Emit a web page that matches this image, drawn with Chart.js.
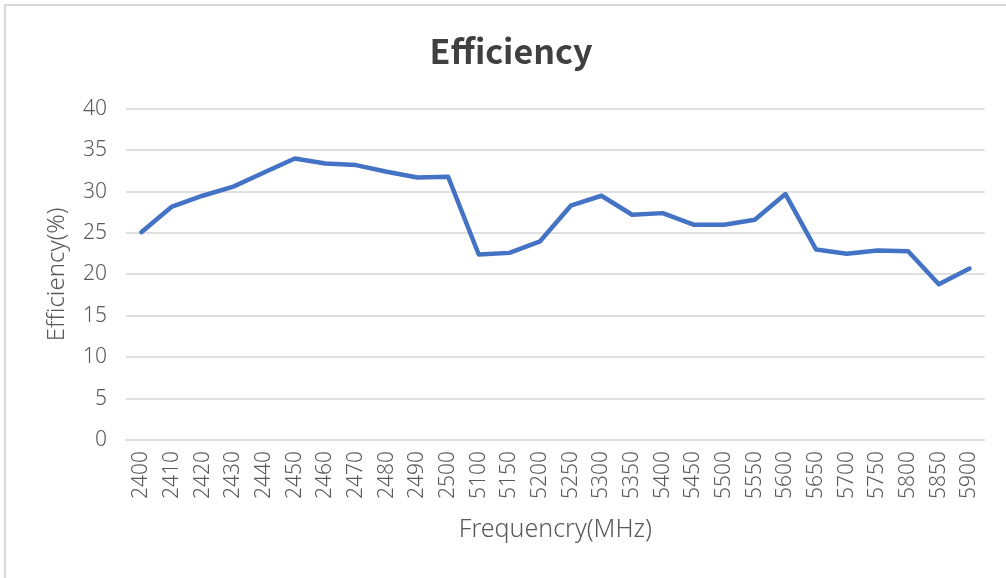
<!DOCTYPE html>
<html>
<head>
<meta charset="utf-8">
<script src="https://cdn.jsdelivr.net/npm/chart.js@4/dist/chart.umd.min.js"></script>
<style>
  html, body { margin: 0; padding: 0; background: #fff; }
  #wrap { position: relative; width: 1006px; height: 578px; overflow: hidden; }
  #frame { position: absolute; left: 4px; top: 4px; width: 1020px; height: 600px;
           border: 2px solid #d9d9d9; box-sizing: border-box; }
  #chart { position: absolute; left: 0; top: 0; }
</style>
</head>
<body>
<div id="wrap">
  <div id="frame"></div>
  <canvas id="chart" width="1006" height="578"></canvas>
</div>
<script>
// frequency points (MHz) - 2.4G band then 5G band
const freqLabels = [
  "2400", "2410", "2420", "2430", "2440", "2450", "2460", "2470", "2480", "2490", "2500",
  "5100", "5150", "5200", "5250", "5300", "5350", "5400", "5450", "5500", "5550",
  "5600", "5650", "5700", "5750", "5800", "5850", "5900"
];

// efficiency in %
const efficiency = [
  25.1, 28.2, 29.5, 30.6, 32.3, 34.0, 33.4, 33.2, 32.4, 31.7, 31.8,
  22.4, 22.6, 24.0, 28.3, 29.5, 27.2, 27.4, 26.0, 26.0, 26.6,
  29.7, 23.0, 22.5, 22.9, 22.8, 18.8, 20.7
];

const yTicks = [0, 5, 10, 15, 20, 25, 30, 35, 40];

const TITLE_FONT = "'Noto Sans CJK SC', 'Noto Sans', sans-serif";
const FONT = "'Noto Sans', 'Open Sans', sans-serif";
const gridColor = "#e0e0e0";

Chart.defaults.font.family = FONT;
Chart.defaults.color = "#595959";

new Chart(document.getElementById("chart"), {
  type: "line",
  data: {
    labels: freqLabels,
    datasets: [{
      label: "Efficiency",
      data: efficiency,
      borderColor: "#4472C4",
      borderWidth: 4.5,
      borderCapStyle: "round",
      borderJoinStyle: "round",
      pointRadius: 0,
      tension: 0,
      fill: false
    }]
  },
  options: {
    responsive: false,
    animation: false,
    layout: { padding: { left: 33, right: 17, top: 0, bottom: 0 } },
    plugins: {
      legend: { display: false },
      tooltip: { enabled: false },
      title: {
        display: true,
        text: "Efficiency",
        color: "#404040",
        font: { size: 34, weight: "bold", family: TITLE_FONT },
        padding: { top: 31, bottom: 37 }
      }
    },
    scales: {
      x: {
        offset: true,
        grid: { display: false, drawTicks: false },
        border: { display: true, color: gridColor, width: 2 },
        ticks: {
          autoSkip: false,
          minRotation: 90,
          maxRotation: 90,
          padding: 11,
          color: "#595959",
          font: { size: 21, weight: 300 }
        },
        title: {
          display: true,
          text: "Frequencry(MHz)",
          color: "#595959",
          font: { size: 25, weight: 300 },
          padding: { top: 33, bottom: 33 }
        },
        afterFit: (s) => { s.height = 138; }
      },
      y: {
        min: 0,
        max: 40,
        afterBuildTicks: (s) => { s.ticks = yTicks.map(v => ({ value: v })); },
        grid: { color: gridColor, lineWidth: 2, drawTicks: false },
        border: { display: false },
        ticks: {
          padding: 19,
          color: "#595959",
          font: { size: 21, weight: 300 }
        },
        title: {
          display: true,
          text: "Efficiency(%)",
          color: "#595959",
          font: { size: 24, weight: 300 },
          padding: { top: 10, bottom: 10 }
        },
        afterFit: (s) => { s.width = 93; }
      }
    }
  }
});
</script>
</body>
</html>
